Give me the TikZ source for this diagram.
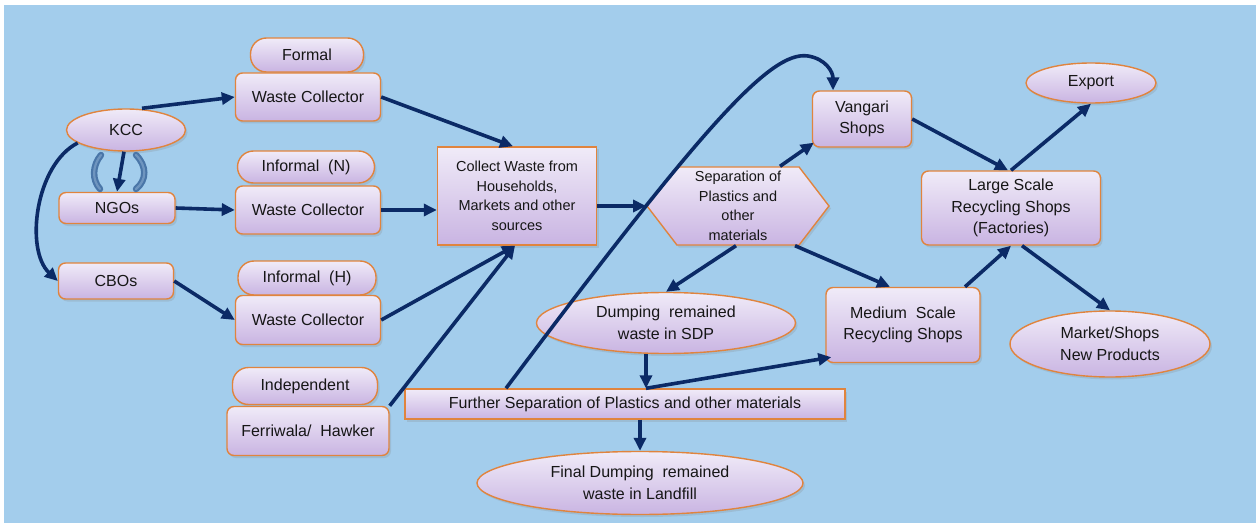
\documentclass[tikz,border=0pt]{standalone}
\usepackage{fontspec}
\setmainfont{Liberation Sans}
\usetikzlibrary{arrows.meta,shapes.geometric,shapes.symbols,shadows}
\definecolor{bgblue}{HTML}{A3CDEC}
\definecolor{ftop}{HTML}{F0EBF8}
\definecolor{fbot}{HTML}{C9B4E2}
\definecolor{bord}{HTML}{E0843E}
\definecolor{arr}{HTML}{0B2A66}
\definecolor{txt}{HTML}{161616}
\definecolor{brk}{HTML}{4A76A8}
\definecolor{brkl}{HTML}{6F95BF}
\newcommand{\fsbig}{\fontsize{16pt}{21.5pt}\selectfont}
\newcommand{\fssmall}{\fontsize{14.5pt}{19.5pt}\selectfont}
\tikzset{
  base/.style={draw=bord, line width=1.4pt, top color=ftop, bottom color=fbot,
    drop shadow={opacity=0.22, shadow xshift=2pt, shadow yshift=-2.5pt},
    align=center, inner sep=0pt, text=txt, font=\fsbig},
  box/.style={base, rectangle, rounded corners=7pt},
  pill/.style={base, rectangle, rounded corners=16pt},
  sqbox/.style={base, rectangle, sharp corners},
  ell/.style={base, ellipse},
  hexa/.style={base, signal, signal to=west and east, signal pointer angle=105},
  conn/.style={draw=arr, line width=3.6pt, -{Triangle[length=13pt,width=12pt]}},
}
\begin{document}
\begin{tikzpicture}[x=1pt,y=-1pt]
\useasboundingbox (0,0) rectangle (1256,524);
\fill[bgblue] (4,5) rectangle (1256,523);

% left column
\node[ell, minimum width=119pt, minimum height=42pt] (kcc) at (126,130) {KCC};
\node[box, minimum width=116pt, minimum height=31pt] (ngos) at (117,208) {NGOs};
\node[box, minimum width=115pt, minimum height=36pt] (cbos) at (116,281) {CBOs};

% collectors
\node[pill, minimum width=113pt, minimum height=34pt] (formal) at (307,55) {Formal};
\node[box, minimum width=145pt, minimum height=48pt] (wc1) at (308,97) {Waste Collector};
\node[pill, minimum width=137pt, minimum height=32pt] (infn) at (306,167) {Informal\ \ (N)};
\node[box, minimum width=145pt, minimum height=48pt] (wc2) at (308,210) {Waste Collector};
\node[pill, minimum width=138pt, minimum height=34pt] (infh) at (307,278) {Informal\ \ (H)};
\node[box, minimum width=145pt, minimum height=49pt] (wc3) at (308,320) {Waste Collector};
\node[pill, minimum width=145pt, minimum height=37pt] (indep) at (305,386) {Independent};
\node[box, minimum width=162pt, minimum height=49pt] (ferri) at (308,431) {Ferriwala/\ \ Hawker};

% centre
\node[sqbox, minimum width=159pt, minimum height=98pt, font=\fssmall] (collect) at (517,196)
  {Collect Waste from\\Households,\\Markets and other\\sources};
\node[hexa, minimum width=182pt, minimum height=78pt, font=\fssmall] (sep) at (738,206)
  {Separation of\\Plastics and\\other\\materials};
\node[ell, minimum width=259pt, minimum height=61pt] (dump) at (666,323)
  {Dumping\ \ remained\\waste in SDP};
\node[sqbox, minimum width=440pt, minimum height=30pt] (further) at (625,404)
  {Further Separation of Plastics and other materials};
\node[ell, minimum width=326pt, minimum height=63pt] (final) at (640,483)
  {Final Dumping\ \ remained\\waste in Landfill};

% right
\node[box, minimum width=99pt, minimum height=56pt] (vangari) at (862,119) {Vangari\\Shops};
\node[box, minimum width=154pt, minimum height=75pt] (medium) at (903,325)
  {Medium\ \ Scale\\Recycling Shops};
\node[box, minimum width=179pt, minimum height=74pt] (large) at (1011,208)
  {Large Scale\\Recycling Shops\\(Factories)};
\node[ell, minimum width=130pt, minimum height=40pt] (export) at (1091,83) {Export};
\node[ell, minimum width=200pt, minimum height=66pt] (market) at (1110,344)
  {Market/Shops\\New Products};

% decorative brackets between KCC and NGOs
\foreach \w/\c in {6.5pt/brk, 2.2pt/brkl}{
  \draw[\c, line width=\w, line cap=round] (101,155) .. controls (92,166) and (92,180) .. (100,189);
  \draw[\c, line width=\w, line cap=round] (136,155) .. controls (147,166) and (147,180) .. (136,189);
}

% connectors
\draw[conn] ([xshift=16pt]kcc.north) -- (wc1.west);
\draw[conn] ([xshift=-2pt]kcc.south) -- (ngos.north);
\draw[conn] (kcc.195) .. controls (35,165) and (25,250) .. (cbos.west);
\draw[conn] (ngos.east) -- (wc2.west);
\draw[conn] (cbos.east) -- (wc3.west);
\draw[conn] (wc1.east) -- ([xshift=-4pt]collect.north);
\draw[conn] (wc2.east) -- (wc2.east -| collect.west);
\draw[conn] (wc3.east) -- ([xshift=-2pt]collect.south);
\draw[conn] (ferri.north east) -- ([xshift=-2pt]collect.south);
\draw[conn] (collect.east |- sep.west) -- (sep.west);
\draw[conn] ([xshift=42pt]sep.north) -- ([shift={(2,-5)}]vangari.south west);
\draw[conn] ([xshift=-2pt]sep.south) -- (dump.north);
\draw[conn] ([xshift=57pt]sep.south) -- ([xshift=-13pt]medium.north);
\draw[conn] ([xshift=-20pt]dump.south) -- ([xshift=21pt]further.north);
\draw[conn] ([xshift=21pt]further.north) -- ([shift={(6,-6)}]medium.south west);
\draw[conn] (final.north |- further.south) -- (final.north);
\draw[conn] ([xshift=-119pt]further.north) .. controls (700,130) and (770,50) .. (808,56)
  .. controls (826,59) and (833,72) .. ([xshift=-29pt]vangari.north);
\draw[conn] (vangari.east) -- ([xshift=-3pt]large.north);
\draw[conn] (large.north) -- (export.south);
\draw[conn] ([xshift=62pt]medium.north) -- (large.south);
\draw[conn] ([xshift=11pt]large.south) -- (market.north);
\end{tikzpicture}
\end{document}
